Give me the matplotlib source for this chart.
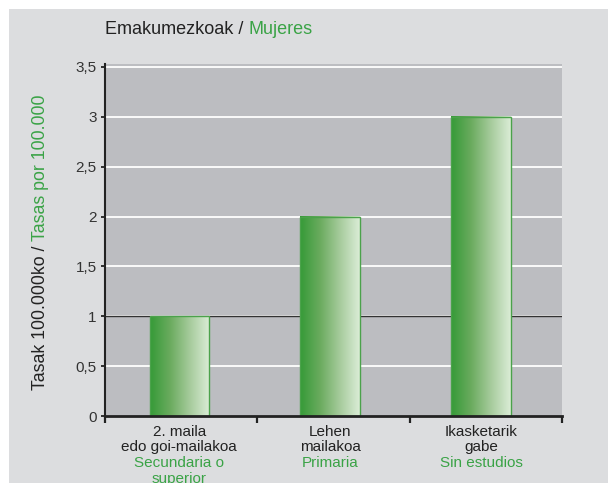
import matplotlib
matplotlib.use('Agg')
import matplotlib.pyplot as plt
import numpy as np
from matplotlib.colors import LinearSegmentedColormap
from matplotlib.patches import Rectangle
from matplotlib.transforms import blended_transform_factory

# datos
categorias_eu = ['2. maila\nedo goi-mailakoa', 'Lehen\nmailakoa', 'Ikasketarik\ngabe']
categorias_es = ['Secundaria o\nsuperior', 'Primaria', 'Sin estudios']
tasas = [1, 2, 3]
yticks = [0, 0.5, 1, 1.5, 2, 2.5, 3, 3.5]
ytick_labels = ['0', '0,5', '1', '1,5', '2', '2,5', '3', '3,5']

verde = '#3aa346'
gris_fondo = '#dcdddf'
gris_plot = '#bcbdc1'

plt.rcParams['font.family'] = ['Liberation Sans', 'DejaVu Sans']

fig = plt.figure(figsize=(6.08, 4.83), dpi=100)
fig.patch.set_facecolor('white')
# fondo gris exterior
fig.patches.append(Rectangle((9 / 608, 0), 1, 1 - 9 / 483, transform=fig.transFigure,
                             facecolor=gris_fondo, edgecolor='none', zorder=-5))

ax = fig.add_axes([105 / 608, 67 / 483, 457 / 608, 352 / 483])
ax.set_facecolor(gris_plot)

# rejilla
for y in yticks[1:]:
    ax.axhline(y, color='white', lw=1.3, zorder=1)
ax.axhline(1, color='#333333', lw=1.0, zorder=1.5)

# barras con degradado
cmap = LinearSegmentedColormap.from_list('verde', ['#359a37', '#6aab5e', '#a6cb9c', '#dbedd7'])
grad = np.linspace(0, 1, 256).reshape(1, -1)
ancho = 0.39
posiciones = [i * 0.99 - 0.012 for i in range(len(tasas))]
for x, v in zip(posiciones, tasas):
    ax.imshow(grad, cmap=cmap, aspect='auto', extent=[x - ancho / 2, x + ancho / 2, 0, v],
              zorder=2, interpolation='bilinear')
    ax.bar(x, v, width=ancho, fill=False, edgecolor='#4ba24b', linewidth=1.0, zorder=3)

ax.set_xlim(-0.5, 2.5)
ax.set_ylim(0, 3.53)

# ejes
for s in ['top', 'right']:
    ax.spines[s].set_visible(False)
ax.spines['left'].set_linewidth(1.5)
ax.spines['left'].set_color('#222222')
ax.spines['bottom'].set_linewidth(2.0)
ax.spines['bottom'].set_color('#222222')
ax.spines['left'].set_zorder(4)
ax.spines['bottom'].set_zorder(4)

ax.set_yticks(yticks)
ax.set_yticklabels(ytick_labels, fontsize=11, color='#333333')
ax.set_xticks([-0.5, 0.5, 1.5, 2.5])
ax.set_xticklabels([])
ax.tick_params(axis='y', length=3, width=1.3, color='#222222', pad=3)
ax.tick_params(axis='x', length=5, width=1.6, color='#222222')

# etiquetas del eje x
trans = blended_transform_factory(ax.transData, ax.transAxes)
for x, eu, es in zip(posiciones, categorias_eu, categorias_es):
    ax.text(x, -0.025, eu, transform=trans, ha='center', va='top',
            fontsize=11, color='#222222', linespacing=1.15)
    ax.text(x, -0.114, es, transform=trans, ha='center', va='top',
            fontsize=11, color=verde, linespacing=1.15, clip_on=False)

# titulo
t = fig.text(105 / 608, 1 - 30 / 483, 'Emakumezkoak / ', fontsize=13, color='#222222',
             ha='left', va='center')
ax.annotate('Mujeres', xy=(1, 0), xycoords=t, ha='left', va='bottom',
            fontsize=13, color=verde, annotation_clip=False)

# etiqueta eje y
yl = fig.text(41 / 608, 93 / 483, 'Tasak 100.000ko / ', fontsize=12.8, color='#222222',
              rotation=90, ha='center', va='bottom')
ax.annotate('Tasas por 100.000', xy=(0.5, 1), xycoords=yl, ha='center', va='bottom',
            rotation=90, fontsize=12.8, color=verde, annotation_clip=False)

fig.savefig('out.png', dpi=100, facecolor=fig.get_facecolor())
